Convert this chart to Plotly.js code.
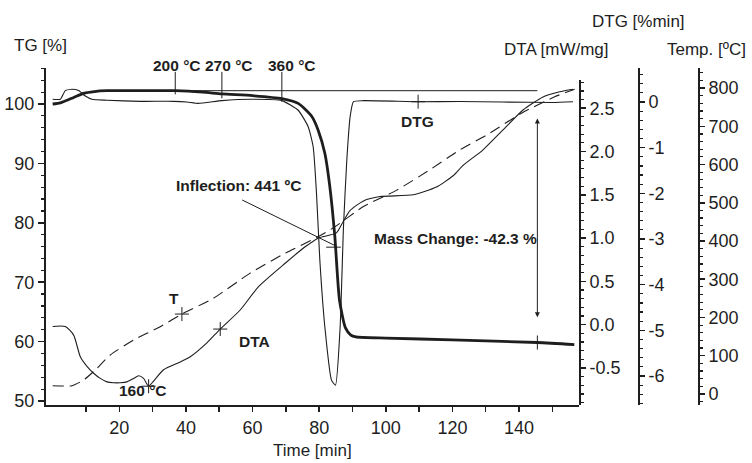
<!DOCTYPE html>
<html>
<head>
<meta charset="utf-8">
<script src="https://cdn.plot.ly/plotly-3.0.1.min.js"></script>
<style>html,body{margin:0;padding:0;background:#fff;}#chart{width:752px;height:463px;}</style>
</head>
<body>
<div id="chart"></div>
<script>
// ---- data ----
const timeTG = [0, 2.3, 6.3, 9.3, 12.5, 16.3, 25, 36.8, 45, 50.8, 60, 68.8, 73.7, 77.8, 79.7, 81.7, 83.2, 84.7, 86.1, 87.9, 89.5, 91, 100, 120, 145.5, 156.6];
const TG = [100.0, 100.2, 101.1, 101.8, 102.1, 102.24, 102.25, 102.24, 102.0, 101.7, 101.4, 100.9, 100.1, 97.9, 95.6, 91.7, 86.1, 77.7, 67.0, 62.3, 61.1, 60.8, 60.6, 60.3, 59.85, 59.5];

const timeDTG = [0, 2.3, 3.8, 5.8, 7.8, 9.8, 11.8, 16.3, 26.3, 36.3, 40.3, 43.7, 50.8, 59.7, 68.8, 73.7, 76.7, 78.2, 79.2, 80.2, 81.7, 83.7, 84.9, 86.3, 87.3, 88.3, 89.3, 90.3, 93.3, 109.7, 122, 135, 150, 156.2];
const DTG = [0.06, 0.06, 0.25, 0.28, 0.25, 0.13, 0.06, 0.04, 0.015, 0.015, 0, -0.03, 0.03, 0.06, 0.03, -0.18, -0.54, -0.98, -2.0, -3.46, -4.92, -6.09, -6.2, -4.92, -2.73, -1.27, -0.32, 0.007, 0.03, 0.007, 0.01, 0.0, -0.01, 0.007];

const timeDTA = [0, 3.8, 6.3, 8.3, 10.3, 12.3, 14.3, 16.3, 18.3, 20.3, 22.3, 24.3, 25.8, 27.3, 28.8, 30.3, 33.3, 38.3, 41.3, 46.3, 50.3, 56.3, 61.8, 69.8, 75.8, 79.7, 82.7, 85.2, 87.2, 89.3, 93.3, 98.3, 108.3, 115.2, 120.2, 123.2, 129.2, 135.2, 141.2, 147.2, 152.2, 156.2];
const DTA = [-0.02, -0.02, -0.12, -0.37, -0.48, -0.56, -0.62, -0.66, -0.67, -0.67, -0.66, -0.62, -0.59, -0.62, -0.71, -0.65, -0.52, -0.43, -0.37, -0.21, -0.05, 0.17, 0.44, 0.71, 0.90, 1.0, 1.03, 1.06, 1.19, 1.32, 1.43, 1.48, 1.50, 1.59, 1.72, 1.84, 2.02, 2.25, 2.48, 2.63, 2.69, 2.72];

const timeT = [0, 5.8, 9.3, 12.8, 17.3, 24.3, 32.3, 38.8, 48.2, 59.3, 69.8, 79.7, 84.7, 93.3, 103.3, 113.2, 122.2, 130.3, 140.7, 150.7, 156.7];
const Temp = [21.7, 21.7, 36.6, 62.7, 102, 141, 176, 209, 250, 316, 368, 411, 437, 490, 533, 586, 638, 677, 734, 777, 797];

// marker points on curves
const markTG = {t: [145.5], v: [59.85]};
const markDTG = {t: [109.7], v: [0.007]};
const markDTA = {t: [50.3, 28.8], v: [-0.05, -0.71]};
const markT = {t: [38.8], v: [209]};

// tick values and labels
const xTicks = [10, 20, 30, 40, 50, 60, 70, 80, 90, 100, 110, 120, 130, 140, 150];
const xTickText = ['', '20', '', '40', '', '60', '', '80', '', '100', '', '120', '', '140', ''];
const tgTicks = [50, 60, 70, 80, 90, 100];
const dtaTicks = [-0.5, 0, 0.5, 1.0, 1.5, 2.0, 2.5];
const dtaTickText = ['-0.5', '0.0', '0.5', '1.0', '1.5', '2.0', '2.5'];
const dtgTicks = [-6, -5, -4, -3, -2, -1, 0];
const dtgTickText = ['-6', '-5', '-4', '-3', '-2', '-1', '0'];
const tempTicks = [0, 100, 200, 300, 400, 500, 600, 700, 800];

// ---- geometry ----
const W = 752, H = 463;
const L = 46, R = 45, T = 68, B = 58;
const PW = W - L - R, PH = H - T - B;
const px2paperX = p => (p - L) / PW;
const px2paperY = p => (H - B - p) / PH;
const ink = '#1e1e1e';
const tickFont = {family: 'Liberation Sans, Arial, sans-serif', size: 18, color: ink};
const boldFont = {family: 'Liberation Sans Narrow, Arial Narrow, Liberation Sans, sans-serif', size: 15.5, color: ink, weight: 'bold'};
const titleFont = {family: 'Liberation Sans, Arial, sans-serif', size: 17, color: ink};

const traces = [
  {x: timeDTA, y: DTA, yaxis: 'y2', mode: 'lines', line: {color: ink, width: 1.1, shape: 'spline', smoothing: 0.6}, name: 'DTA'},
  {x: timeT, y: Temp, yaxis: 'y4', mode: 'lines', line: {color: ink, width: 1.1, dash: '11px,6px', shape: 'spline', smoothing: 0.6}, name: 'T'},
  {x: timeDTG, y: DTG, yaxis: 'y3', mode: 'lines', line: {color: ink, width: 1.1, shape: 'spline', smoothing: 0.5}, name: 'DTG'},
  {x: timeTG, y: TG, yaxis: 'y', mode: 'lines', line: {color: ink, width: 2.8, shape: 'spline', smoothing: 0.6}, name: 'TG'},
  {x: markTG.t, y: markTG.v, yaxis: 'y', mode: 'markers', marker: {symbol: 'cross-thin', size: 10, line: {color: ink, width: 1}}},
  {x: markDTG.t, y: markDTG.v, yaxis: 'y3', mode: 'markers', marker: {symbol: 'cross-thin', size: 10, line: {color: ink, width: 1}}},
  {x: markDTA.t, y: markDTA.v, yaxis: 'y2', mode: 'markers', marker: {symbol: 'cross-thin', size: 10, line: {color: ink, width: 1}}},
  {x: markT.t, y: markT.v, yaxis: 'y4', mode: 'markers', marker: {symbol: 'cross-thin', size: 10, line: {color: ink, width: 1}}}
];

const axCommon = {showgrid: false, zeroline: false, showline: true, linecolor: ink, linewidth: 2, ticks: 'outside', tickcolor: ink, tickwidth: 1.5, tickfont: tickFont};

const layout = {
  width: W, height: H,
  margin: {l: L, r: R, t: T, b: B, pad: 0},
  paper_bgcolor: '#fff', plot_bgcolor: 'rgba(0,0,0,0)',
  showlegend: false,
  xaxis: Object.assign({}, axCommon, {domain: [0, 533 / PW], range: [-2, 158], tickvals: xTicks, ticktext: xTickText, ticklen: 5, anchor: 'y'}),
  yaxis: Object.assign({}, axCommon, {range: [49.33, 106.06], tickvals: tgTicks, ticklen: 6, minor: {dtick: 2, tick0: 50, ticklen: 3, ticks: 'outside', tickcolor: ink, tickwidth: 1.2}}),
  yaxis2: Object.assign({}, axCommon, {anchor: 'x', side: 'right', domain: [0, (405 - 80) / PH], range: [-0.927, 2.826], tickvals: dtaTicks, ticktext: dtaTickText, ticklen: 5, minor: {dtick: 0.1, tick0: 0, ticklen: 3, ticks: 'outside', tickcolor: ink, tickwidth: 1.2}}),
  yaxis3: Object.assign({}, axCommon, {overlaying: 'y', anchor: 'free', side: 'right', position: px2paperX(639), range: [-6.635, 0.745], tickvals: dtgTicks, ticktext: dtgTickText, ticklen: 5, minor: {dtick: 0.2, tick0: 0, ticklen: 3, ticks: 'outside', tickcolor: ink, tickwidth: 1.2}}),
  yaxis4: Object.assign({}, axCommon, {overlaying: 'y', anchor: 'free', side: 'right', position: px2paperX(699), range: [-28.8, 852.3], tickvals: tempTicks, ticklen: 5, minor: {dtick: 20, tick0: 0, ticklen: 3, ticks: 'outside', tickcolor: ink, tickwidth: 1.2}}),
  shapes: [
    // reference horizontal line
    {type: 'line', xref: 'x', yref: 'y', x0: 20, x1: 145.5, y0: 102.24, y1: 102.24, line: {color: ink, width: 1}},
    // temperature markers
    {type: 'line', xref: 'x', yref: 'y', x0: 36.8, x1: 36.8, y0: 105.4, y1: 101.63, line: {color: ink, width: 1}},
    {type: 'line', xref: 'x', yref: 'y', x0: 50.8, x1: 50.8, y0: 105.4, y1: 100.96, line: {color: ink, width: 1}},
    {type: 'line', xref: 'x', yref: 'y', x0: 68.8, x1: 68.8, y0: 105.4, y1: 100.39, line: {color: ink, width: 1}},
    // inflection leader line + tick
    {type: 'line', xref: 'x', yref: 'y', x0: 56.9, x1: 85.0, y0: 83.84, y1: 76.1, line: {color: ink, width: 1}},
    {type: 'line', xref: 'x', yref: 'y', x0: 82.1, x1: 86.5, y0: 75.9, y1: 75.9, line: {color: ink, width: 1}}
  ],
  annotations: [
    // axis titles
    {xref: 'paper', yref: 'paper', x: px2paperX(40.5), y: px2paperY(45.5), text: 'TG [%]', showarrow: false, font: titleFont, xanchor: 'center', yanchor: 'middle'},
    {xref: 'paper', yref: 'paper', x: px2paperX(638), y: px2paperY(22), text: 'DTG [%min]', showarrow: false, font: titleFont, xanchor: 'center', yanchor: 'middle'},
    {xref: 'paper', yref: 'paper', x: px2paperX(556), y: px2paperY(50), text: 'DTA [mW/mg]', showarrow: false, font: titleFont, xanchor: 'center', yanchor: 'middle'},
    {xref: 'paper', yref: 'paper', x: px2paperX(706), y: px2paperY(50), text: 'Temp. [ºC]', showarrow: false, font: titleFont, xanchor: 'center', yanchor: 'middle'},
    {xref: 'paper', yref: 'paper', x: px2paperX(312), y: px2paperY(450), text: 'Time [min]', showarrow: false, font: titleFont, xanchor: 'center', yanchor: 'middle'},
    // temperature labels above the plot
    {xref: 'x', yref: 'paper', x: 37.4, y: px2paperY(65), text: '200 °C', showarrow: false, font: boldFont, xanchor: 'center', yanchor: 'middle'},
    {xref: 'x', yref: 'paper', x: 52.97, y: px2paperY(65), text: '270 °C', showarrow: false, font: boldFont, xanchor: 'center', yanchor: 'middle'},
    {xref: 'x', yref: 'paper', x: 71.85, y: px2paperY(65), text: '360 °C', showarrow: false, font: boldFont, xanchor: 'center', yanchor: 'middle'},
    // in-plot labels
    {xref: 'x', yref: 'y', x: 55.7, y: 86.2, text: 'Inflection: 441 ºC', showarrow: false, font: boldFont},
    {xref: 'x', yref: 'y', x: 121.0, y: 77.4, text: 'Mass Change: -42.3 %', showarrow: false, font: boldFont},
    {xref: 'x', yref: 'y', x: 109.6, y: 97.0, text: 'DTG', showarrow: false, font: boldFont},
    {xref: 'x', yref: 'y', x: 60.5, y: 60.1, text: 'DTA', showarrow: false, font: boldFont},
    {xref: 'x', yref: 'y', x: 36.5, y: 67.3, text: 'T', showarrow: false, font: boldFont},
    {xref: 'x', yref: 'y', x: 27.2, y: 51.7, text: '160 °C', showarrow: false, font: boldFont},
    // mass change double arrow
    {xref: 'x', yref: 'y', axref: 'x', ayref: 'y', x: 145.5, y: 64.1, ax: 145.5, ay: 97.8, text: '', showarrow: true, arrowhead: 2, startarrowhead: 2, arrowside: 'end+start', arrowsize: 1, arrowwidth: 1, arrowcolor: ink}
  ]
};

Plotly.newPlot('chart', traces, layout, {displayModeBar: false, staticPlot: true});
</script>
</body>
</html>
